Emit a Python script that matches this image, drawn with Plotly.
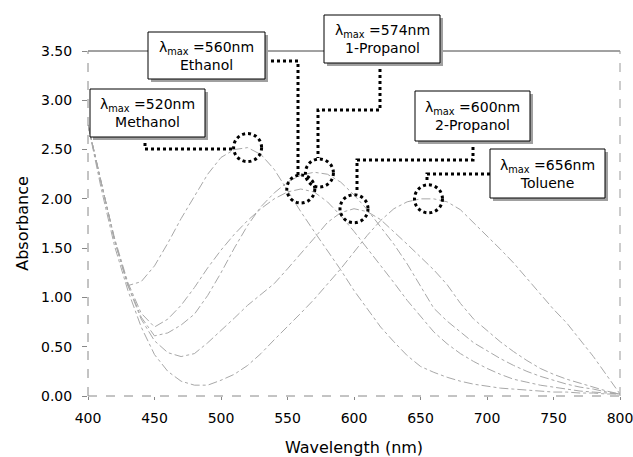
import numpy as np
import plotly.graph_objects as go

# ---------------- data ----------------
wavelength = list(range(400, 801, 10))

methanol = [2.75, 2.15, 1.58, 1.12, 1.16, 1.32, 1.55, 1.80, 2.03, 2.25, 2.42, 2.50, 2.52, 2.45, 2.30,
            2.08, 1.87, 1.67, 1.48, 1.28, 1.07, 0.88, 0.70, 0.55, 0.41, 0.30, 0.24, 0.19, 0.15, 0.12,
            0.10, 0.08, 0.07, 0.06, 0.05, 0.04, 0.04, 0.03, 0.03, 0.02, 0.02]
ethanol = [2.75, 2.15, 1.60, 1.15, 0.84, 0.70, 0.78, 0.92, 1.10, 1.30, 1.48, 1.64, 1.78, 1.90, 2.00,
           2.07, 2.10, 2.07, 1.97, 1.83, 1.67, 1.50, 1.33, 1.15, 0.97, 0.81, 0.65, 0.53, 0.43, 0.35,
           0.28, 0.22, 0.17, 0.14, 0.11, 0.09, 0.07, 0.05, 0.04, 0.03, 0.02]
propanol1 = [2.75, 2.15, 1.58, 1.13, 0.80, 0.61, 0.64, 0.72, 0.83, 1.02, 1.25, 1.50, 1.73, 1.92, 2.06,
             2.17, 2.24, 2.27, 2.25, 2.17, 2.04, 1.89, 1.72, 1.54, 1.34, 1.12, 0.89, 0.76, 0.65, 0.54,
             0.46, 0.38, 0.31, 0.25, 0.20, 0.16, 0.12, 0.09, 0.07, 0.04, 0.02]
propanol2 = [2.75, 2.15, 1.58, 1.12, 0.78, 0.56, 0.44, 0.40, 0.43, 0.54, 0.66, 0.79, 0.92, 1.03, 1.14,
             1.29, 1.44, 1.60, 1.76, 1.86, 1.90, 1.87, 1.79, 1.67, 1.54, 1.41, 1.28, 1.13, 0.94, 0.78,
             0.66, 0.55, 0.45, 0.36, 0.28, 0.22, 0.17, 0.13, 0.09, 0.05, 0.02]
toluene = [2.75, 2.10, 1.52, 1.07, 0.70, 0.42, 0.25, 0.15, 0.11, 0.11, 0.16, 0.22, 0.31, 0.43, 0.57,
           0.70, 0.84, 0.98, 1.13, 1.29, 1.46, 1.63, 1.78, 1.90, 1.97, 2.00, 2.00, 1.97, 1.89, 1.76,
           1.62, 1.49, 1.35, 1.19, 1.03, 0.88, 0.74, 0.57, 0.40, 0.21, 0.02]

solvents = ["Methanol", "Ethanol", "1-Propanol", "2-Propanol", "Toluene"]
series = [methanol, ethanol, propanol1, propanol2, toluene]
lambda_max = [520, 560, 574, 600, 656]

x_ticks = list(range(400, 801, 50))
y_ticks = [0.0, 0.5, 1.0, 1.5, 2.0, 2.5, 3.0, 3.5]

# ---------------- layout geometry (pixels) ----------------
W, H = 633, 457
L, R, T, B = 88, 13, 51, 61
PW, PH = W - L - R, H - T - B


def px(xp):
    return (xp - L) / PW


def py(yp):
    return (H - B - yp) / PH


FONT = "DejaVu Sans, Verdana, sans-serif"

fig = go.Figure()
for name, vals in zip(solvents, series):
    fig.add_trace(go.Scatter(x=wavelength, y=vals, mode="lines", name=name,
                             line=dict(color="#a8a8a8", width=1, dash="dashdot"),
                             showlegend=False))

shapes = []
# plot frame
shapes.append(dict(type="line", xref="paper", yref="paper", x0=0, x1=1, y0=1, y1=1,
                   line=dict(color="#444", width=1)))
shapes.append(dict(type="line", xref="paper", yref="paper", x0=1, x1=1, y0=0, y1=1,
                   line=dict(color="#999", width=1, dash="dash")))
shapes.append(dict(type="line", xref="paper", yref="paper", x0=0, x1=0, y0=0, y1=1,
                   line=dict(color="#888", width=1, dash="dash")))
shapes.append(dict(type="line", xref="paper", yref="paper", x0=0, x1=1, y0=0, y1=0,
                   line=dict(color="#888", width=1, dash="dash")))

# label boxes (pixel), connectors (pixel)
boxes = {
    "Methanol": (90, 89, 205, 137),
    "Ethanol": (148, 32, 265, 79),
    "1-Propanol": (324, 15, 440, 63),
    "2-Propanol": (415, 91, 530, 141),
    "Toluene": (490, 149, 605, 198),
}
connectors = {
    "Methanol": [(145, 137), (145, 149), (234, 149)],
    "Ethanol": [(265, 61), (298, 61), (298, 175)],
    "1-Propanol": [(380, 63), (380, 110), (318, 110), (318, 158)],
    "2-Propanol": [(473, 141), (473, 160), (357, 160), (357, 193)],
    "Toluene": [(490, 174), (427, 174), (427, 183)],
}

annotations = []
for name, vals, lm in zip(solvents, series, lambda_max):
    peak = float(np.interp(lm, wavelength, vals))
    shapes.append(dict(type="circle", xref="x", yref="y", xsizemode="pixel", ysizemode="pixel",
                       xanchor=lm, yanchor=peak, x0=-14, x1=14, y0=-14, y1=14,
                       line=dict(color="black", width=3, dash="dot")))
    pts = connectors[name]
    path = "M " + " L ".join(f"{px(a):.5f},{py(b):.5f}" for a, b in pts)
    shapes.append(dict(type="path", xref="paper", yref="paper", path=path,
                       line=dict(color="black", width=3, dash="dot")))
    x0, y0, x1, y1 = boxes[name]
    shapes.append(dict(type="rect", xref="paper", yref="paper",
                       x0=px(x0 + 3), x1=px(x1 + 3), y0=py(y1 + 3), y1=py(y0 + 3),
                       line=dict(width=0), fillcolor="#a0a0a0"))
    shapes.append(dict(type="rect", xref="paper", yref="paper",
                       x0=px(x0), x1=px(x1), y0=py(y1), y1=py(y0),
                       line=dict(color="black", width=1), fillcolor="white"))
    annotations.append(dict(xref="paper", yref="paper", x=px((x0 + x1) / 2), y=py((y0 + y1) / 2),
                            text=f"λ<sub>max</sub> ={lm}nm<br>{name}", showarrow=False,
                            xanchor="center", yanchor="middle", align="center",
                            font=dict(family=FONT, size=14, color="black")))

fig.update_layout(
    width=W, height=H,
    margin=dict(l=L, r=R, t=T, b=B, autoexpand=False),
    paper_bgcolor="white", plot_bgcolor="white",
    font=dict(family=FONT, size=14, color="black"),
    shapes=shapes, annotations=annotations,
    xaxis=dict(range=[400, 800], tickvals=x_ticks, ticktext=[str(v) for v in x_ticks],
               showgrid=False, zeroline=False, showline=False,
               ticks="outside", ticklen=3, tickcolor="#888", ticklabelstandoff=6,
               ticklabeloverflow="allow",
               title=dict(text="Wavelength (nm)", font=dict(size=16), standoff=18),
               tickfont=dict(size=14)),
    yaxis=dict(range=[0, 3.5], tickvals=y_ticks, ticktext=[f"{v:.2f}" for v in y_ticks],
               showgrid=False, zeroline=False, showline=False,
               ticks="outside", ticklen=5, tickcolor="#888", ticklabelstandoff=7,
               title=dict(text="Absorbance", font=dict(size=16), standoff=8),
               tickfont=dict(size=14)),
)

fig.write_html("out.html", config={"displayModeBar": False},
               post_script="document.body.style.margin='0';")
